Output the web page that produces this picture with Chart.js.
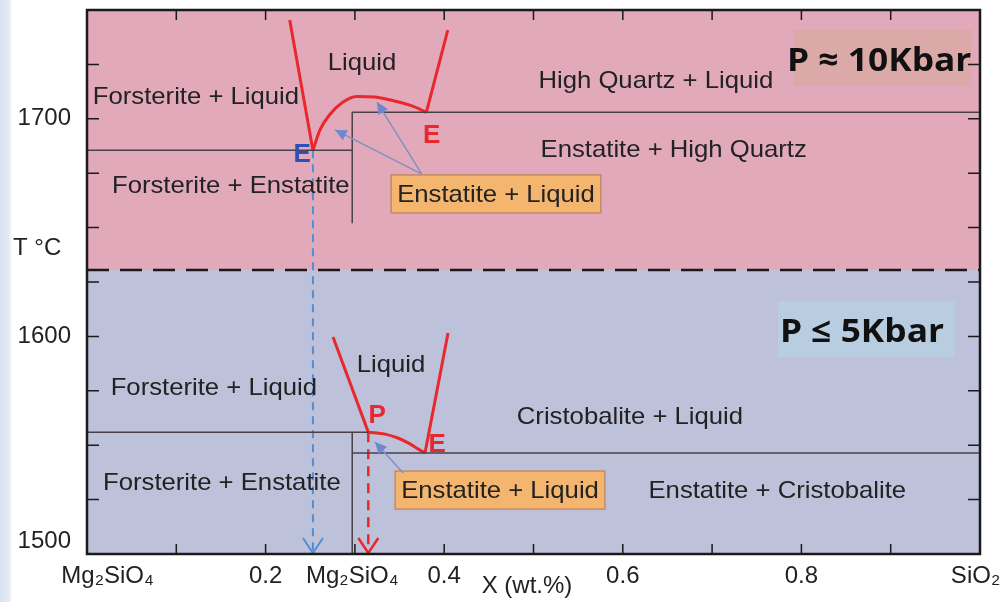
<!DOCTYPE html>
<html>
<head>
<meta charset="utf-8">
<script src="https://cdn.jsdelivr.net/npm/chart.js@4"></script>
<style>
  html, body { margin: 0; padding: 0; }
  body { width: 1004px; height: 602px; background: linear-gradient(to right, #d8e3f0 0px, #e4ebf5 9px, #ffffff 12px); }
</style>
</head>
<body>
<canvas id="phaseChart" width="1004" height="602"></canvas>
<script>
// x = fraction SiO2, y = temperature in °C
const xTickValues = [0.023, 0.2, 0.297, 0.4, 0.6, 0.8, 0.995];
const xTickLabels = ['Mg₂SiO₄', '0.2', 'Mg₂SiO₄', '0.4', '0.6', '0.8', 'SiO₂'];
const xTickMarks = [0.1, 0.2, 0.3, 0.4, 0.5, 0.6, 0.7, 0.8, 0.9];
const yTickValues = [1506, 1600, 1700];
const yTickLabels = ['1500', '1600', '1700'];
const yTickMarks = [1525, 1550, 1575, 1600, 1625, 1650, 1675, 1700, 1725];
const xAxisTitle = ['X (wt.%)', 0.4927];
const yAxisTitle = ['T °C', 1637.4];
const pressureSplit = 1630.5;

// P ≈ 10 kbar
const hiSolidusLeft = [[0, 1685.5], [0.297, 1685.5]];
const hiEnstatiteLine = [[0.297, 1652], [0.297, 1703]];
const hiSolidusRight = [[0.297, 1703], [1, 1703]];
const hiLiquidusLeft = [[0.227, 1745.4], [0.253, 1685.5]];
const hiLiquidusMid = [[0.253, 1685.5], [0.261, 1695.0], [0.272, 1702.0], [0.286, 1707.5], [0.302, 1710.3],
  [0.3225, 1710], [0.345, 1708.1], [0.364, 1705.9], [0.380, 1703]];
const hiLiquidusRight = [[0.380, 1703], [0.404, 1740.8]];
const hiEutecticDrop = [[0.253, 1685.5], [0.253, 1500]];

// P ≤ 5 kbar
const loSolidusLeft = [[0, 1556], [0.315, 1556]];
const loEnstatiteLine = [[0.297, 1556], [0.297, 1500]];
const loSolidusRight = [[0.297, 1546.4], [1, 1546.4]];
const loLiquidusLeft = [[0.2755, 1599.7], [0.315, 1556]];
const loLiquidusMid = [[0.315, 1556], [0.3337, 1555.1], [0.348, 1553.3], [0.3617, 1550.6], [0.3707, 1548.3], [0.3785, 1546.4]];
const loLiquidusRight = [[0.3785, 1546.4], [0.4043, 1601.6]];
const loPeritecticDrop = [[0.315, 1556], [0.315, 1500]];

// text: [label, x, T at baseline]
const fieldLabels = [
  ['Liquid', 0.308, 1722.4],
  ['Forsterite + Liquid', 0.122, 1706.8],
  ['Forsterite + Enstatite', 0.161, 1665.9],
  ['High Quartz + Liquid', 0.637, 1714.2],
  ['Enstatite + High Quartz', 0.657, 1682.4],
  ['Liquid', 0.3405, 1583.6],
  ['Forsterite + Liquid', 0.142, 1573.1],
  ['Forsterite + Enstatite', 0.151, 1529.4],
  ['Cristobalite + Liquid', 0.608, 1559.7],
  ['Enstatite + Cristobalite', 0.773, 1525.7]
];
const boxedLabels = [['Enstatite + Liquid', 0.458, 1661.8], ['Enstatite + Liquid', 0.4625, 1525.7]];
const blueLetters = [['E', 0.241, 1680.1]];
const redLetters = [['E', 0.386, 1688.9], ['P', 0.325, 1560.2], ['E', 0.392, 1546.9]];
const pressureLabels = [['P ≈ 10Kbar', 0.784, 1722.0], ['P ≤ 5Kbar', 0.776, 1597.4]];
// pointer arrows: [x0, T0, x1, T1]
const pointerArrows = [[0.375, 1674.6, 0.2777, 1694.9], [0.375, 1674.6, 0.3247, 1707.7], [0.354, 1537.2, 0.3225, 1551.5]];

const toPts = arr => arr.map(p => ({ x: p[0], y: p[1] }));
const lineSet = (arr, color, width, extra) => Object.assign({
  data: toPts(arr), showLine: true, pointRadius: 0, borderColor: color, borderWidth: width, tension: 0, fill: false
}, extra || {});

const GRAY = '#4a4048';
const RED = '#e8282c';
const BLUE_DASH = '#4f8fd6';
const FONT = '"Liberation Sans", Arial, sans-serif';
const BIG = 'bold 33px "Open Sans", sans-serif';

function txt(ctx, s, x, y, font, color, align, stretch) {
  ctx.save();
  ctx.translate(x, y);
  ctx.scale(stretch || 1, 1);
  ctx.font = font;
  ctx.fillStyle = color;
  ctx.textAlign = align || 'center';
  ctx.textBaseline = 'alphabetic';
  ctx.fillText(s, 0, 0);
  ctx.restore();
}

function arrowHead(ctx, x0, y0, x1, y1, size, color) {
  const a = Math.atan2(y1 - y0, x1 - x0);
  ctx.save();
  ctx.fillStyle = color;
  ctx.beginPath();
  ctx.moveTo(x1, y1);
  ctx.lineTo(x1 - size * Math.cos(a - 0.45), y1 - size * Math.sin(a - 0.45));
  ctx.lineTo(x1 - size * Math.cos(a + 0.45), y1 - size * Math.sin(a + 0.45));
  ctx.closePath();
  ctx.fill();
  ctx.restore();
}

function openHead(ctx, x, y, color, width) {
  ctx.save();
  ctx.strokeStyle = color;
  ctx.lineWidth = width;
  ctx.setLineDash([]);
  ctx.beginPath();
  ctx.moveTo(x - 10, y - 16);
  ctx.lineTo(x, y - 1);
  ctx.lineTo(x + 10, y - 16);
  ctx.stroke();
  ctx.restore();
}

const diagramPlugin = {
  id: 'diagram',
  beforeDatasetsDraw(chart) {
    const { ctx, chartArea: a, scales: { y } } = chart;
    const ySplit = y.getPixelForValue(pressureSplit);
    ctx.save();
    ctx.fillStyle = '#e2a9bb';
    ctx.fillRect(a.left, a.top, a.right - a.left, ySplit - a.top);
    ctx.fillStyle = '#bdc2da';
    ctx.fillRect(a.left, ySplit, a.right - a.left, a.bottom - ySplit);
    ctx.restore();
  },
  afterDatasetsDraw(chart) {
    const { ctx, chartArea: a, scales: { x, y } } = chart;
    const X = v => x.getPixelForValue(v);
    const Y = v => y.getPixelForValue(v);

    // pressure divider
    ctx.save();
    ctx.strokeStyle = '#1a1a1a';
    ctx.lineWidth = 2.5;
    ctx.setLineDash([22, 11]);
    ctx.beginPath();
    ctx.moveTo(a.left, Y(pressureSplit));
    ctx.lineTo(a.right, Y(pressureSplit));
    ctx.stroke();
    ctx.restore();

    // open arrow heads on dashed drops
    openHead(ctx, X(hiEutecticDrop[1][0]), Y(hiEutecticDrop[1][1]), BLUE_DASH, 2);
    openHead(ctx, X(loPeritecticDrop[1][0]), Y(loPeritecticDrop[1][1]), RED, 2.5);

    // pressure labels with boxes
    pressureLabels.forEach((p, i) => {
      const px = X(p[1]), py = Y(p[2]);
      ctx.save();
      ctx.font = BIG;
      const w = ctx.measureText(p[0]).width * 1.07;
      ctx.restore();
      const bx = i === 0 ? px + 7 : px - 2;
      const bw = i === 0 ? w - 7 : w + 13;
      ctx.fillStyle = i === 0 ? '#dba9a8' : '#b9cde0';
      ctx.fillRect(bx, py - 41, bw, 56);
      txt(ctx, p[0], px, py, BIG, '#111', 'left', 1.07);
    });

    // boxed labels
    boxedLabels.forEach(b => {
      const px = X(b[1]), py = Y(b[2]);
      ctx.save();
      ctx.font = '24px ' + FONT;
      const w = ctx.measureText(b[0]).width * 1.07;
      ctx.restore();
      ctx.save();
      ctx.fillStyle = '#f4b66e';
      ctx.strokeStyle = '#c48a66';
      ctx.lineWidth = 1.5;
      ctx.fillRect(px - w / 2 - 6, py - 27, w + 12, 38);
      ctx.strokeRect(px - w / 2 - 6, py - 27, w + 12, 38);
      ctx.restore();
      txt(ctx, b[0], px, py, '24px ' + FONT, '#222', 'center', 1.07);
    });

    // pointer arrows
    pointerArrows.forEach(p => {
      const x0 = X(p[0]), y0 = Y(p[1]), x1 = X(p[2]), y1 = Y(p[3]);
      ctx.save();
      ctx.strokeStyle = '#8290c4';
      ctx.lineWidth = 1.5;
      ctx.beginPath();
      ctx.moveTo(x0, y0);
      ctx.lineTo(x1, y1);
      ctx.stroke();
      ctx.restore();
      arrowHead(ctx, x0, y0, x1, y1, 13, '#6f87cc');
    });

    // field labels
    fieldLabels.forEach(f => txt(ctx, f[0], X(f[1]), Y(f[2]), '24px ' + FONT, '#222', 'center', 1.07));
    blueLetters.forEach(f => txt(ctx, f[0], X(f[1]), Y(f[2]), 'bold 26px ' + FONT, '#2e4fb5', 'center'));
    redLetters.forEach(f => txt(ctx, f[0], X(f[1]), Y(f[2]), 'bold 26px ' + FONT, RED, 'center'));

    // frame and inward ticks
    ctx.save();
    ctx.strokeStyle = '#1a1a1a';
    ctx.lineWidth = 2.5;
    ctx.strokeRect(a.left, a.top, a.right - a.left, a.bottom - a.top);
    ctx.lineWidth = 1.5;
    ctx.beginPath();
    xTickMarks.forEach(v => {
      ctx.moveTo(X(v), a.top); ctx.lineTo(X(v), a.top + 10);
      ctx.moveTo(X(v), a.bottom); ctx.lineTo(X(v), a.bottom - 10);
    });
    yTickMarks.forEach(v => {
      ctx.moveTo(a.left, Y(v)); ctx.lineTo(a.left + 12, Y(v));
      ctx.moveTo(a.right, Y(v)); ctx.lineTo(a.right - 12, Y(v));
    });
    ctx.stroke();
    ctx.restore();

    // axis titles
    txt(ctx, xAxisTitle[0], X(xAxisTitle[1]), a.bottom + 39, '24px ' + FONT, '#222', 'center');
    txt(ctx, yAxisTitle[0], 13, Y(yAxisTitle[1]), '24px ' + FONT, '#222', 'left');
  }
};

Chart.defaults.font.family = FONT;
Chart.defaults.color = '#222';

new Chart(document.getElementById('phaseChart'), {
  type: 'scatter',
  data: {
    datasets: [
      lineSet(hiSolidusLeft, GRAY, 1.5),
      lineSet(hiEnstatiteLine, GRAY, 1.5),
      lineSet(hiSolidusRight, GRAY, 1.5),
      lineSet(loSolidusLeft, GRAY, 1.5),
      lineSet(loEnstatiteLine, GRAY, 1.5),
      lineSet(loSolidusRight, GRAY, 1.5),
      lineSet(hiEutecticDrop, BLUE_DASH, 2, { borderDash: [8, 6] }),
      lineSet(loPeritecticDrop, RED, 2.5, { borderDash: [10, 7] }),
      lineSet(hiLiquidusLeft, RED, 3),
      lineSet(hiLiquidusMid, RED, 3, { tension: 0.4, cubicInterpolationMode: 'monotone' }),
      lineSet(hiLiquidusRight, RED, 3),
      lineSet(loLiquidusLeft, RED, 3),
      lineSet(loLiquidusMid, RED, 3, { tension: 0.4, cubicInterpolationMode: 'monotone' }),
      lineSet(loLiquidusRight, RED, 3)
    ]
  },
  options: {
    responsive: false,
    animation: false,
    layout: { padding: { top: 10, right: 24, left: 0, bottom: 0 } },
    plugins: { legend: { display: false }, tooltip: { enabled: false } },
    scales: {
      x: {
        type: 'linear', min: 0, max: 1,
        grid: { display: false }, border: { display: false },
        afterBuildTicks: s => { s.ticks = xTickValues.map(v => ({ value: v })); },
        afterFit: s => { s.height = 48; s.paddingLeft = 0; s.paddingRight = 0; },
        ticks: { autoSkip: false, maxRotation: 0, padding: 0, font: { size: 24 },
          callback: (v, i) => xTickLabels[i] }
      },
      y: {
        min: 1500, max: 1750,
        grid: { display: false }, border: { display: false },
        afterBuildTicks: s => { s.ticks = yTickValues.map(v => ({ value: v })); },
        afterFit: s => { s.width = 87; s.paddingTop = 0; s.paddingBottom = 0; },
        ticks: { autoSkip: false, padding: 8, font: { size: 24 },
          callback: (v, i) => yTickLabels[i] }
      }
    }
  },
  plugins: [diagramPlugin]
});
</script>
</body>
</html>
